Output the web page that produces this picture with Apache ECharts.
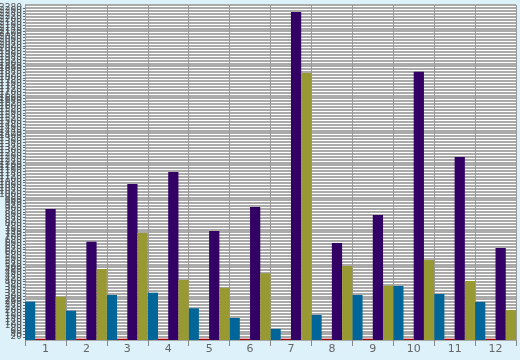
<!DOCTYPE html>
<html>
<head>
<meta charset="utf-8">
<script src="https://cdn.jsdelivr.net/npm/echarts@6/dist/echarts.min.js"></script>
<style>html,body{margin:0;padding:0;background:#dcf1f9;}#c{width:520px;height:360px;}</style>
</head>
<body>
<div id="c"></div>
<script>
const categories = ['1','2','3','4','5','6','7','8','9','10','11','12'];
const tealValues   = [263, 201, 309, 325, 218, 151, 76, 172, 309, 371, 316, 261];
const redValues    = [9, 9, 9, 9, 9, 9, 9, 9, 9, 9, 9, 9];
const purpleValues = [899, 675, 1071, 1153, 748, 913, 2252, 666, 858, 1842, 1256, 632];
const oliveValues  = [297, 487, 735, 412, 359, 458, 1833, 508, 373, 549, 405, 206];
const yMin = 0, yMax = 2300, yInterval = 20;

const chart = echarts.init(document.getElementById('c'), null, {renderer: 'canvas'});
function bar(name, data, color) {
  return {name: name, type: 'bar', data: data, barGap: '0%', barCategoryGap: '0%',
          itemStyle: {color: color}, animation: false};
}
chart.setOption({
  animation: false,
  backgroundColor: '#dcf1f9',
  grid: {left: 25, right: 4, top: 5, bottom: 20, show: true, backgroundColor: '#ffffff',
         borderWidth: 0, containLabel: false, outerBoundsMode: 'none'},
  xAxis: {
    type: 'category', data: categories, boundaryGap: true,
    axisLine: {show: false},
    axisTick: {show: true, interval: 0, length: 6, lineStyle: {color: '#888'}},
    axisLabel: {color: '#666', fontFamily: 'DejaVu Sans', fontSize: 11, margin: 4},
    splitLine: {show: true, interval: 0, lineStyle: {color: '#999', width: 1}}
  },
  yAxis: {
    type: 'value', min: yMin, max: yMax, interval: yInterval,
    axisLine: {show: false},
    axisTick: {show: true, length: 2, lineStyle: {color: '#666'}},
    axisLabel: {color: '#555', fontFamily: 'DejaVu Sans', fontSize: 9, margin: 3,
                formatter: function (v) { return String(v); }},
    splitLine: {show: true, lineStyle: {color: '#aaaaaa', width: 2}}
  },
  series: [
    bar('teal', tealValues, '#006699'),
    bar('red', redValues, '#aa0000'),
    bar('purple', purpleValues, '#330066'),
    bar('olive', oliveValues, '#999933')
  ]
});
</script>
</body>
</html>
